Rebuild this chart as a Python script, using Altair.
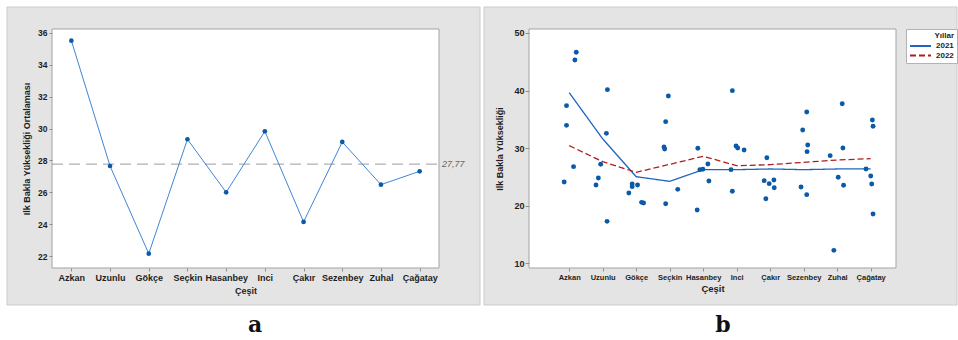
import altair as alt
import pandas as pd

# ---- data -------------------------------------------------------------
cultivars = ["Azkan", "Uzunlu", "Gökçe", "Seçkin", "Hasanbey",
             "Inci", "Çakır", "Sezenbey", "Zuhal", "Çağatay"]

# (a) cultivar means of first pod height
cultivar_mean = [35.52, 27.65, 22.15, 29.33, 26.00, 29.83, 24.14, 29.16, 26.48, 27.32]
grand_mean = 27.77

# (b) individual observations per cultivar (6 each) and their horizontal jitter
plot_heights = [
    [24.12, 37.38, 33.96, 26.78, 45.31, 46.64],
    [23.60, 24.81, 27.19, 32.57, 40.16, 17.28],
    [22.21, 23.77, 23.31, 23.60, 20.58, 20.47],
    [30.20, 29.85, 34.60, 39.06, 20.35, 22.84],
    [29.97, 19.25, 26.26, 26.32, 27.24, 24.29],
    [39.98, 30.37, 30.02, 29.68, 26.26, 22.50],
    [28.34, 24.35, 23.83, 24.46, 23.13, 21.22],
    [36.28, 33.15, 30.54, 29.39, 23.25, 21.92],
    [37.72, 30.02, 28.69, 24.93, 23.54, 12.25],
    [34.89, 33.79, 26.38, 25.16, 23.77, 18.56],
]
jitter = [
    [-0.15, -0.08, -0.08, 0.13, 0.17, 0.21],
    [-0.20, -0.13, -0.06, 0.11, 0.14, 0.13],
    [-0.22, -0.12, -0.12, 0.04, 0.16, 0.22],
    [-0.17, -0.15, -0.12, -0.04, -0.12, 0.24],
    [-0.16, -0.18, -0.10, -0.01, 0.14, 0.17],
    [-0.13, -0.02, 0.03, 0.22, -0.17, -0.13],
    [-0.10, -0.18, -0.03, 0.11, 0.12, -0.13],
    [0.09, -0.03, 0.12, 0.10, -0.08, 0.09],
    [0.15, 0.17, -0.21, 0.03, 0.19, -0.10],
    [0.05, 0.07, -0.14, 0.00, 0.03, 0.07],
]
years = ["2021", "2022"]
year_mean_2021 = [39.64, 31.60, 25.04, 24.23, 26.26, 26.26, 26.38, 26.26, 26.38, 26.38]
year_mean_2022 = [30.43, 27.65, 25.80, 27.19, 28.58, 26.95, 27.13, 27.53, 27.94, 28.17]

# ---- tables -----------------------------------------------------------
df_a = pd.DataFrame({"cultivar": cultivars, "height": cultivar_mean})

obs_rows = []
for i, (vals, jit) in enumerate(zip(plot_heights, jitter)):
    for v, j in zip(vals, jit):
        obs_rows.append({"cultivar": cultivars[i], "pos": i + j, "height": v})
df_obs = pd.DataFrame(obs_rows)

mean_rows = []
for yr, series in zip(years, [year_mean_2021, year_mean_2022]):
    for i, v in enumerate(series):
        mean_rows.append({"pos": i, "height": v, "year": yr})
df_year = pd.DataFrame(mean_rows)

# ---- style ------------------------------------------------------------
FONT = "Liberation Sans"
PANEL = "#e4e4e4"
PANEL_EDGE = "#cbcbcb"
FRAME = "#a3a3a3"
DOT = "#0b5aa8"
INK = "#1e1e1e"
TICK = "#8f8f8f"

one = alt.Data(values=[{}])


def panel_frame(x0, x1, y0, y1, w, h):
    bg = alt.Chart(one).mark_rect(fill=PANEL, stroke=PANEL_EDGE, strokeWidth=1).encode(
        x=alt.value(x0), x2=alt.value(x1), y=alt.value(y0), y2=alt.value(y1))
    plot = alt.Chart(one).mark_rect(fill="white", stroke=FRAME, strokeWidth=1).encode(
        x=alt.value(0), x2=alt.value(w), y=alt.value(0), y2=alt.value(h))
    return bg, plot


def tag(letter, x, y):
    return alt.Chart(one).mark_text(
        text=letter, font="DejaVu Serif", fontWeight="bold", fontSize=22,
        baseline="alphabetic", align="center", color="#111"
    ).encode(x=alt.value(x), y=alt.value(y))


def axis(**kw):
    base = dict(zindex=2, grid=False, domain=False, tickColor=TICK, tickSize=3,
                labelFont=FONT, titleFont=FONT, labelColor=INK, titleColor=INK)
    base.update(kw)
    return alt.Axis(**base)


# ---- panel a: main effects plot --------------------------------------
W1, H1 = 387, 239
xa = alt.X("cultivar:N", sort=cultivars,
           scale=alt.Scale(type="point", padding=0.5),
           axis=axis(title="Çeşit", labelAngle=0, labelFontSize=9,
                     labelFontWeight="bold", labelPadding=2,
                     titleFontSize=9, titleFontWeight="bold", titlePadding=4))
ya = alt.Y("height:Q", scale=alt.Scale(domain=[21.25, 36.25], nice=False, zero=False),
           axis=axis(values=list(range(22, 37, 2)),
                     title="Ilk Bakla Yüksekliği Ortalaması",
                     labelFontSize=8.5, labelFontWeight="bold", labelPadding=2,
                     titleFontSize=9, titleFontWeight="bold", titlePadding=6))

bg_a, plot_a = panel_frame(-45, 428, -22, 276, W1, H1)
mean_df = pd.DataFrame({"height": [grand_mean]})
ref_rule = alt.Chart(mean_df).mark_rule(color="#9c9c9c", strokeDash=[11, 6], strokeWidth=1).encode(
    y=ya, x=alt.value(0), x2=alt.value(W1))
ref_label = alt.Chart(mean_df).mark_text(
    text=f"{grand_mean:.2f}".replace(".", ","), align="left", baseline="middle",
    fontSize=9, fontStyle="italic", font=FONT, color="#666"
).encode(y=ya, x=alt.value(W1 + 3))
line_a = alt.Chart(df_a).mark_line(color="#3f86d6", strokeWidth=1).encode(x=xa, y=ya)
pts_a = alt.Chart(df_a).mark_circle(color=DOT, size=22, opacity=1).encode(x=xa, y=ya)

panel_a = alt.layer(bg_a, plot_a, ref_rule, ref_label, line_a, pts_a,
                    tag("a", 203, 303)).properties(width=W1, height=H1)

# ---- panel b: individual value plot ----------------------------------
W2, H2 = 367, 239
label_expr = "[" + ",".join(f"'{c}'" for c in cultivars) + "][datum.value]"
xb = alt.X("pos:Q", scale=alt.Scale(domain=[-1.2, 9.755], nice=False, zero=False),
           axis=axis(values=list(range(len(cultivars))), labelExpr=label_expr,
                     title="Çeşit", labelFontSize=7.5, labelFontWeight="bold",
                     labelPadding=2, labelFlush=False, labelOverlap=False,
                     titleFontSize=9.5, titleFontWeight="bold", titlePadding=3))
yb = alt.Y("height:Q", scale=alt.Scale(domain=[9.18, 50.69], nice=False, zero=False),
           axis=axis(values=[10, 20, 30, 40, 50], title="Ilk Bakla Yüksekliği",
                     labelFontSize=9, labelFontWeight="bold", labelPadding=1,
                     tickSize=4, titleFontSize=9, titleFontWeight="bold",
                     titlePadding=9))

year_legend = alt.Legend(
    title="Yıllar", orient="none", legendX=377, legendY=0, titleAnchor="end",
    fillColor="white", strokeColor="#b3b3b3", padding=3, cornerRadius=0,
    symbolType="stroke", symbolSize=441, symbolStrokeWidth=2, clipHeight=8,
    labelFont=FONT, titleFont=FONT, labelFontSize=8, titleFontSize=8,
    labelFontWeight="bold", titleFontWeight="bold", labelColor=INK, titleColor=INK,
    rowPadding=1.5, titlePadding=2, labelOffset=4, zindex=3)

bg_b, plot_b = panel_frame(-45, 428, -22, 276, W2, H2)
lines_b = alt.Chart(df_year).mark_line(strokeWidth=1.3).encode(
    x=xb, y=yb,
    color=alt.Color("year:N", scale=alt.Scale(domain=years, range=["#1d65c0", "#b01c22"]),
                    legend=year_legend),
    strokeDash=alt.StrokeDash("year:N", scale=alt.Scale(domain=years, range=[[1, 0], [6, 3]]),
                              legend=year_legend),
)
pts_b = alt.Chart(df_obs).mark_circle(color=DOT, size=24, opacity=1).encode(x=xb, y=yb)

panel_b = alt.layer(bg_b, plot_b, lines_b, pts_b,
                    tag("b", 194, 303)).properties(width=W2, height=H2)

chart = alt.hconcat(panel_a, panel_b, spacing=2).resolve_legend(
    color="independent", strokeDash="independent"
).properties(
    padding={"left": 6, "top": 6, "right": 0, "bottom": 0},
    background="white",
).configure_view(stroke=None, fill=None)

chart.save("out.html", embed_options={"renderer": "svg", "actions": False})
